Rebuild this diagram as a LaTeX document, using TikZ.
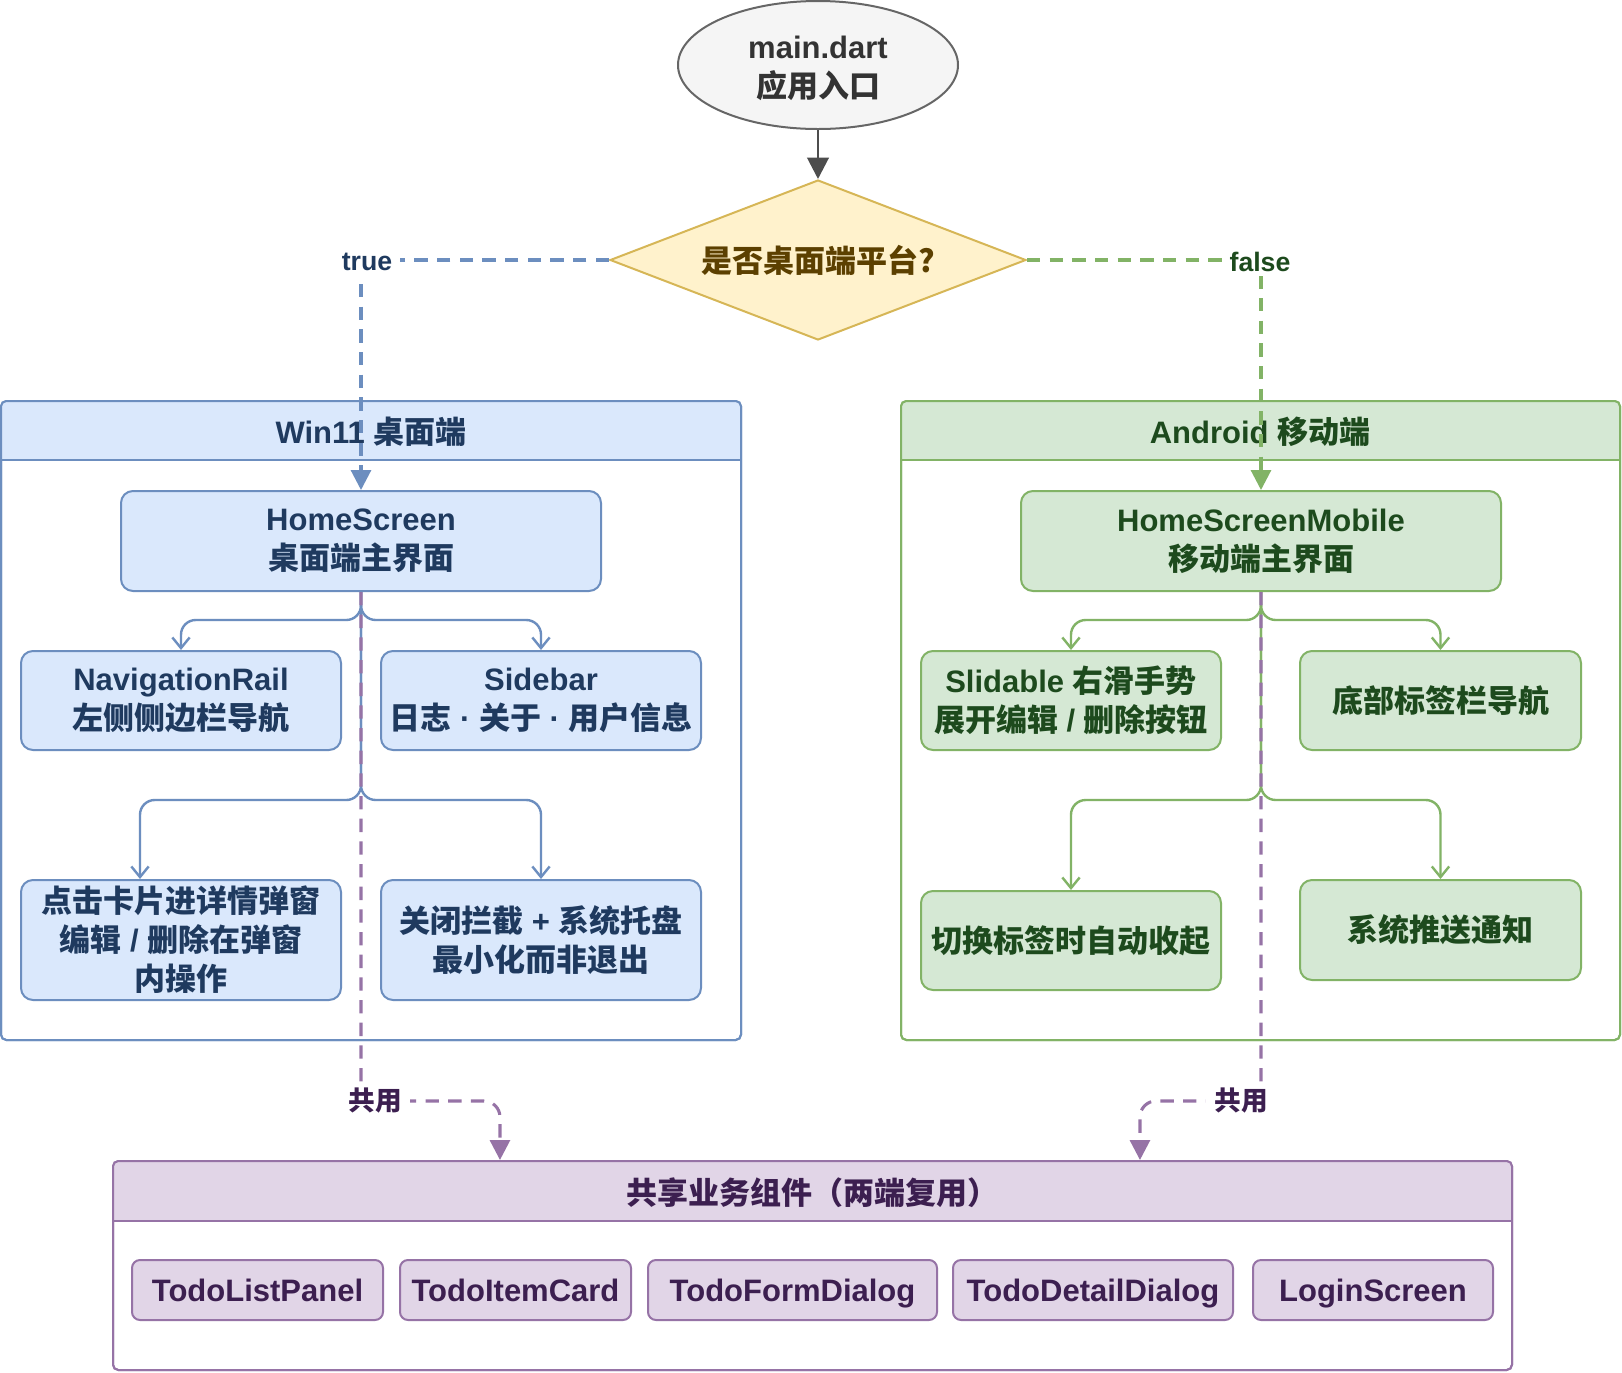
\documentclass[tikz,border=0pt]{standalone}
\usepackage{fontspec}
\setmainfont{Liberation Sans}
\newfontfamily\cjk{Noto Sans CJK SC}
\usetikzlibrary{shapes.geometric,arrows.meta,fit}
\newcommand\C[1]{{\cjk #1}}
\definecolor{bfill}{HTML}{DAE8FC}
\definecolor{bstroke}{HTML}{6C8EBF}
\definecolor{btext}{HTML}{1F3A5F}
\definecolor{gfill}{HTML}{D5E8D4}
\definecolor{gstroke}{HTML}{82B366}
\definecolor{gtext}{HTML}{1D4A1D}
\definecolor{yfill}{HTML}{FFF2CC}
\definecolor{ystroke}{HTML}{D6B656}
\definecolor{ytext}{HTML}{5C4000}
\definecolor{pfill}{HTML}{E1D5E7}
\definecolor{pstroke}{HTML}{9673A6}
\definecolor{ptext}{HTML}{3C1F50}
\definecolor{efill}{HTML}{F5F5F5}
\definecolor{estroke}{HTML}{666666}
\definecolor{etext}{HTML}{333333}
\definecolor{darr}{HTML}{4D4D4D}
\begin{document}
\begin{tikzpicture}[x=0.75pt,y=-0.75pt,
  every node/.style={font=\fontsize{23.25pt}{29.25pt}\selectfont\bfseries, align=center, inner sep=0pt},
  bbox/.style={draw=bstroke, fill=bfill, line width=1.5pt, rounded corners=9pt},
  gbox/.style={draw=gstroke, fill=gfill, line width=1.5pt, rounded corners=9pt},
  pbox/.style={draw=pstroke, fill=pfill, line width=1.5pt, rounded corners=6pt},
  ctext/.style={text=ptext, text height=16.6pt, text depth=0pt},
  lbl/.style={fill=white, inner xsep=6pt, inner ysep=3pt, font=\fontsize{20pt}{24pt}\selectfont\bfseries},
  bconn/.style={draw=bstroke, line width=1.8pt, rounded corners=11pt, -{Straight Barb[length=8pt,width=13pt]}},
  gconn/.style={draw=gstroke, line width=1.8pt, rounded corners=11pt, -{Straight Barb[length=8pt,width=13pt]}},
  tdash/.style={line width=2.3pt, dash pattern=on 10pt off 7pt, -{Triangle[length=15pt,width=15pt]}},
  pdash/.style={draw=pstroke, line width=2.3pt, dash pattern=on 10pt off 7pt, rounded corners=12pt, -{Triangle[length=15pt,width=15pt]}}
]
\useasboundingbox (0,0) rectangle (1622,1372);

% containers
\node[fit={(1,401)(741,1040)}, draw=bstroke, fill=white, line width=1.5pt, rounded corners=4pt] (win) {};
\begin{scope}
  \clip[rounded corners=4pt] (1,401) rectangle (741,1040);
  \fill[bfill] (1,401) rectangle (741,460);
\end{scope}
\draw[bstroke, line width=1.5pt, rounded corners=4pt] (1,401) rectangle (741,1040);
\draw[bstroke, line width=1.5pt] (1,460) -- (741,460);
\node[text=btext] (wint) at (371,432) {Win11 \C{桌面端}};

\node[fit={(901,401)(1620,1040)}, draw=gstroke, fill=white, line width=1.5pt, rounded corners=4pt] (and) {};
\begin{scope}
  \clip[rounded corners=4pt] (901,401) rectangle (1620,1040);
  \fill[gfill] (901,401) rectangle (1620,460);
\end{scope}
\draw[gstroke, line width=1.5pt, rounded corners=4pt] (901,401) rectangle (1620,1040);
\draw[gstroke, line width=1.5pt] (901,460) -- (1620,460);
\node[text=gtext] (andt) at (1260,432) {Android \C{移动端}};

\node[fit={(113,1161)(1512,1370)}, draw=pstroke, fill=white, line width=1.5pt, rounded corners=4pt] (sh) {};
\begin{scope}
  \clip[rounded corners=4pt] (113,1161) rectangle (1512,1370);
  \fill[pfill] (113,1161) rectangle (1512,1221);
\end{scope}
\draw[pstroke, line width=1.5pt, rounded corners=4pt] (113,1161) rectangle (1512,1370);
\draw[pstroke, line width=1.5pt] (113,1221) -- (1512,1221);
\node[text=ptext] (sht) at (812,1193) {\C{共享业务组件（两端复用）}};

% top
\node[ellipse, draw=estroke, fill=efill, line width=1.5pt, minimum width=210pt, minimum height=96pt] (main) at (818,65) {};
\node[text=etext] at ([yshift=-2.5pt]main.center) {main.dart\\\C{应用入口}};
\node[diamond, shape aspect=2.6, draw=ystroke, fill=yfill, line width=1.5pt, minimum width=312pt, minimum height=120pt] (dec) at (818,260) {};
\node[text=ytext] at (dec.center) {\C{是否桌面端平台?}};

% desktop boxes
\node[bbox, fit={(121,491)(601,591)}] (hs) {};
\node[text=btext] at (hs.center) {HomeScreen\\\C{桌面端主界面}};
\node[bbox, fit={(21,651)(341,750)}] (nav) {};
\node[text=btext] at (nav.center) {NavigationRail\\\C{左侧侧边栏导航}};
\node[bbox, fit={(381,651)(701,750)}] (side) {};
\node[text=btext] at (side.center) {Sidebar\\\C{日志} · \C{关于} · \C{用户信息}};
\node[bbox, fit={(21,880)(341,1000)}] (card) {};
\node[text=btext] at (card.center) {\C{点击卡片进详情弹窗}\\\C{编辑} / \C{删除在弹窗}\\\C{内操作}};
\node[bbox, fit={(381,880)(701,1000)}] (close) {};
\node[text=btext] at (close.center) {\C{关闭拦截} + \C{系统托盘}\\\C{最小化而非退出}};

% mobile boxes
\node[gbox, fit={(1021,491)(1501,591)}] (hsm) {};
\node[text=gtext] at (hsm.center) {HomeScreenMobile\\\C{移动端主界面}};
\node[gbox, fit={(921,651)(1221,750)}] (slide) {};
\node[text=gtext] at (slide.center) {Slidable \C{右滑手势}\\\C{展开编辑} / \C{删除按钮}};
\node[gbox, fit={(1300,651)(1581,750)}] (tab) {};
\node[text=gtext] at (tab.center) {\C{底部标签栏导航}};
\node[gbox, fit={(921,891)(1221,990)}] (coll) {};
\node[text=gtext] at (coll.center) {\C{切换标签时自动收起}};
\node[gbox, fit={(1300,880)(1581,980)}] (push) {};
\node[text=gtext] at (push.center) {\C{系统推送通知}};

% shared components
\node[pbox, fit={(132,1260)(383,1320)}] (c1) {};
\node[ctext] at (c1.center) {TodoListPanel};
\node[pbox, fit={(400,1260)(631,1320)}] (c2) {};
\node[ctext] at (c2.center) {TodoItemCard};
\node[pbox, fit={(648,1260)(937,1320)}] (c3) {};
\node[ctext] at (c3.center) {TodoFormDialog};
\node[pbox, fit={(953,1260)(1233,1320)}] (c4) {};
\node[ctext] at (c4.center) {TodoDetailDialog};
\node[pbox, fit={(1253,1260)(1493,1320)}] (c5) {};
\node[ctext] at (c5.center) {LoginScreen};

% coordinates
\coordinate (j1) at (361,620);
\coordinate (j2) at (361,800);
\coordinate (k1) at (1261,620);
\coordinate (k2) at (1261,800);
\coordinate (cardin) at ([xshift=-30.75pt]card.north);
\coordinate (sL) at ([xshift=-234.4pt]sh.north);
\coordinate (sR) at ([xshift=245.6pt]sh.north);
\coordinate (pL) at (361,1101);
\coordinate (pR) at (1261,1101);

% main arrow
\draw[darr, line width=2.2pt, -{Triangle[length=16pt,width=16pt]}] (main.south) -- (dec.north);

% branches
\draw[bconn] (hs.south) -- (j1) -| (nav.north);
\draw[bconn] (hs.south) -- (j1) -| (side.north);
\draw[bconn] (hs.south) -- (j2) -| (cardin);
\draw[bconn] (hs.south) -- (j2) -| (close.north);
\draw[gconn] (hsm.south) -- (k1) -| (slide.north);
\draw[gconn] (hsm.south) -- (k1) -| (tab.north);
\draw[gconn] (hsm.south) -- (k2) -| (coll.north);
\draw[gconn] (hsm.south) -- (k2) -| (push.north);

% true / false
\draw[tdash, bstroke] (dec.west) -| (hs.north);
\draw[tdash, gstroke] (dec.east) -| (hsm.north);
\node[lbl, text=btext] (tl) at (367,262) {true};
\node[lbl, text=gtext] (fl) at (1260,262) {false};

% shared
\draw[pdash] (hs.south) -- (pL) -| (sL);
\draw[pdash] (hsm.south) -- (pR) -| (sR);
\node[lbl, text=ptext] (ul) at (375,1101) {\C{共用}};
\node[lbl, text=ptext] (ur) at (1241,1101) {\C{共用}};
\end{tikzpicture}
\end{document}
